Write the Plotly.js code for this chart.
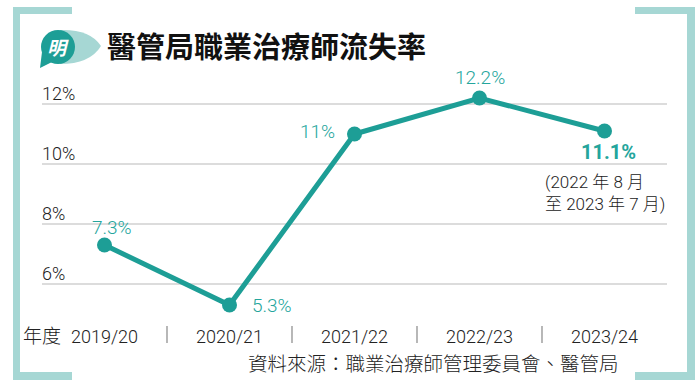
<!DOCTYPE html>
<html><head><meta charset="utf-8">
<script src="https://cdn.plot.ly/plotly-3.0.1.min.js"></script>
<style>html,body{margin:0;padding:0;background:#fff}#chart{width:700px;height:392px}</style>
</head><body><div id="chart"></div>
<script>
// ---- data ----
const years = ["2019/20", "2020/21", "2021/22", "2022/23", "2023/24"];
const rates = [7.3, 5.3, 11, 12.2, 11.1];
const rateLabels = ["7.3%", "5.3%", "11%", "12.2%", "11.1%"];
const yTickVals = [6, 8, 10, 12];
const yTickText = ["6%", "8%", "10%", "12%"];
const titleText = "醫管局職業治療師流失率";
const yearPrefix = "年度";
const periodNote = "(2022 年 8 月<br>至 2023 年 7 月)";
const sourceText = "資料來源：職業治療師管理委員會、醫管局";

// ---- geometry helpers (plot area: x 42..667, y 89..314) ----
const L = 42, T = 89, W = 625, H = 225;
const px = x => (x - L) / W;
const py = y => (T + H - y) / H;

const teal = "#1d9e96";
const tealText = "#24a59c";
const frame = "#a6d7d4";
const font = "Roboto, 'Noto Sans CJK TC', sans-serif";
const cjk = "'Noto Sans CJK TC', Roboto, sans-serif";

function rect(x0, y0, x1, y1, color) {
  return {type: "rect", xref: "paper", yref: "paper", x0: px(x0), x1: px(x1), y0: py(y1), y1: py(y0),
          fillcolor: color, line: {width: 0}, layer: "above"};
}
function path(points, color) {
  let d = "";
  points.forEach((p, i) => {
    if (p.length === 2) d += (i ? " L" : "M") + px(p[0]) + "," + py(p[1]);
    else d += " Q" + px(p[0]) + "," + py(p[1]) + " " + px(p[2]) + "," + py(p[3]);
  });
  return {type: "path", xref: "paper", yref: "paper", path: d + " Z", fillcolor: color, line: {width: 0}, layer: "above"};
}

const shapes = [
  // frame brackets
  rect(13, 7, 20, 380, frame),
  rect(13, 7, 72, 14, frame),
  rect(13, 372, 72, 380, frame),
  rect(687, 7, 695, 380, frame),
  rect(635, 7, 695, 14, frame),
  rect(635, 372, 695, 380, frame),
  // logo
  path([[60, 30], [90, 29, 101, 46], [90, 64, 60, 64]], frame),
  {type: "circle", xref: "paper", yref: "paper", x0: px(41), x1: px(75), y0: py(64), y1: py(30),
   fillcolor: teal, line: {width: 0}, layer: "above"},
  path([[42, 52], [52, 62], [40, 68]], teal)
];
// separators between year labels
for (let i = 0; i < years.length - 1; i++) {
  shapes.push({type: "line", xref: "x", yref: "paper", x0: i + 0.5, x1: i + 0.5,
               y0: py(326), y1: py(343), line: {color: "#888", width: 1.2}, layer: "above"});
}

// data label offsets
const shiftX = [7, 42, -37, 0, 4];
const shiftY = [18, 0, 3, 21, -21];
const annotations = rates.map((v, i) => ({
  x: years[i], y: v, xref: "x", yref: "y", showarrow: false,
  text: i === rates.length - 1 ? "<b>" + rateLabels[i] + "</b>" : rateLabels[i],
  xshift: shiftX[i], yshift: shiftY[i],
  font: {family: font, size: i === rates.length - 1 ? 20 : 19, color: tealText,
         weight: i === rates.length - 1 ? 700 : 300}
}));
// y tick labels placed above gridlines
yTickVals.forEach((v, i) => annotations.push({
  xref: "paper", yref: "y", x: px(40), y: v, xanchor: "left", yanchor: "middle", yshift: 11,
  text: yTickText[i], showarrow: false, font: {family: font, size: 18, color: "#222", weight: 300}
}));
annotations.push(
  {xref: "paper", yref: "paper", x: px(21), y: py(334), xanchor: "left", yanchor: "middle",
   text: yearPrefix, showarrow: false, font: {family: cjk, size: 19, color: "#222", weight: 300}},
  {xref: "paper", yref: "paper", x: px(543), y: py(193), xanchor: "left", yanchor: "middle", align: "left",
   text: periodNote, showarrow: false, font: {family: font, size: 17, color: "#222", weight: 300}},
  {xref: "paper", yref: "paper", x: px(621), y: py(362), xanchor: "right", yanchor: "middle",
   text: sourceText, showarrow: false, font: {family: cjk, size: 19.5, color: "#222", weight: 300}},
  {xref: "paper", yref: "paper", x: px(58), y: py(47), xanchor: "center", yanchor: "middle",
   text: "<i>明</i>", showarrow: false, font: {family: cjk, size: 19, color: "#fff", weight: 700}}
);

const trace = {
  x: years, y: rates, type: "scatter", mode: "lines+markers",
  line: {color: teal, width: 5}, marker: {color: teal, size: 15},
  cliponaxis: false, hoverinfo: "skip"
};

const layout = {
  width: 700, height: 392,
  margin: {l: L, r: 700 - L - W, t: T, b: 392 - T - H},
  paper_bgcolor: "#fff", plot_bgcolor: "#fff",
  showlegend: false,
  title: {text: "<b>" + titleText + "</b>", x: 107 / 700, xanchor: "left", xref: "container",
          y: 1 - 48 / 392, yanchor: "middle", yref: "container",
          font: {family: cjk, size: 29, color: "#111"}},
  xaxis: {type: "category", range: [-0.5, 4.5], showgrid: false, zeroline: false, showline: false,
          ticks: "", ticklabelstandoff: 10, tickfont: {family: font, size: 18, color: "#222", weight: 300}, fixedrange: true},
  yaxis: {range: [5, 12.5], tickvals: yTickVals, showticklabels: false, showgrid: true, gridcolor: "#dcdcdc",
          gridwidth: 1.5, zeroline: false, showline: false, ticks: "", fixedrange: true},
  shapes: shapes,
  annotations: annotations
};

Plotly.newPlot("chart", [trace], layout, {staticPlot: true, displayModeBar: false});
</script></body></html>
